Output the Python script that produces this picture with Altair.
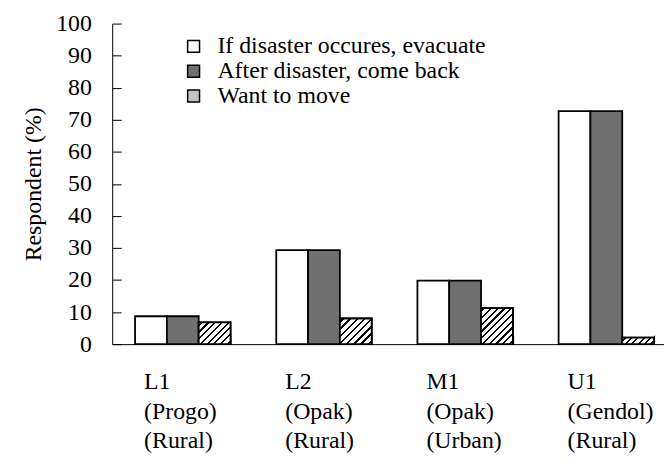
import altair as alt
import pandas as pd

# ---- data ----
site_codes = ["L1", "L2", "M1", "U1"]
rivers = ["(Progo)", "(Opak)", "(Opak)", "(Gendol)"]
areas = ["(Rural)", "(Rural)", "(Urban)", "(Rural)"]
series = ["If disaster occures, evacuate", "After disaster, come back", "Want to move"]
evacuate = [8.7, 29.3, 19.8, 72.7]
come_back = [8.7, 29.3, 19.8, 72.7]
want_move = [6.8, 8.0, 11.2, 2.0]
y_ticks = list(range(0, 101, 10))

sites = [f"{c}|{r}|{a}" for c, r, a in zip(site_codes, rivers, areas)]
rows = []
for vals, s in zip([evacuate, come_back, want_move], series):
    for site, v in zip(sites, vals):
        rows.append({"site": site, "series": s, "value": v})
df = pd.DataFrame(rows)

FONT = "Liberation Serif"
FS = 24
PLOT_H = 323
X_RANGE = 569
P_IN, P_OUT = 0.324, 0.162
STEP = X_RANGE / (len(sites) - P_IN + 2 * P_OUT)
BAR_W = STEP * (1 - P_IN) / len(series)


def hatch_fill(h_px, w_px=BAR_W, period=7.0, ink=0.33):
    """Diagonal '/' hatch as a striped linear gradient sized to one bar."""
    h_px = max(h_px, 1.0)
    k = (w_px + h_px) / (w_px ** 2 + h_px ** 2)
    n = max(1, round((w_px + h_px) / period))
    stops = []
    for i in range(n):
        a, b, c = i / n, (i + ink) / n, (i + 1) / n
        stops += [
            {"offset": a, "color": "white"},
            {"offset": b, "color": "white"},
            {"offset": b, "color": "black"},
            {"offset": min(b + ink / n, c), "color": "black"},
            {"offset": min(b + ink / n, c), "color": "white"},
            {"offset": c, "color": "white"},
        ]
    return alt.LinearGradient(gradient="linear", x1=0, y1=0,
                              x2=k * w_px, y2=k * h_px, stops=stops)


def x_scale():
    return alt.Scale(domain=sites, range=[0, X_RANGE], paddingInner=P_IN, paddingOuter=P_OUT)


def y_scale():
    return alt.Scale(domain=[0, 100], nice=False)


def xo_scale():
    return alt.Scale(domain=series, paddingInner=0, paddingOuter=0)


y_axis_main = alt.Axis(
    orient="left", values=y_ticks, ticks=False, grid=False,
    labelFont=FONT, labelFontSize=FS, labelColor="black", labelPadding=21,
    domainColor="black",
    title="Respondent (%)", titleFont=FONT, titleFontSize=FS,
    titleFontWeight="normal", titleColor="black", titlePadding=10,
)
y_axis_ticks = alt.Axis(
    orient="left", values=y_ticks, labels=False, domain=False, grid=False,
    title=None, tickSize=9, offset=-9, tickColor="black",
)
x_axis_main = alt.Axis(
    orient="bottom", ticks=False, labelAngle=0, title=None,
    labelExpr="split(datum.value, '|')",
    labelFont=FONT, labelFontSize=FS, labelColor="black",
    labelAlign="left", labelOffset=-39,
    labelLineHeight=29.5, labelPadding=26, domainColor="black",
)
x_axis_ticks = alt.Axis(
    orient="bottom", labels=False, domain=False, title=None, grid=False,
    tickBand="extent", tickSize=9, offset=-9, tickColor="black",
)

bars = alt.Chart(df).mark_bar(stroke="black", strokeWidth=1.8).encode(
    x=alt.X("site:N", sort=sites, scale=x_scale(), axis=x_axis_main),
    xOffset=alt.XOffset("series:N", sort=series, scale=xo_scale()),
    y=alt.Y("value:Q", scale=y_scale(), axis=y_axis_main),
    color=alt.Color(
        "series:N", sort=series,
        scale=alt.Scale(domain=series, range=["white", "#707070", "#c4c4c4"]),
        legend=alt.Legend(
            title=None, orient="none", legendX=70, legendY=11,
            symbolType="square", symbolSize=144, symbolStrokeColor="black",
            symbolStrokeWidth=1.5, symbolOpacity=1,
            labelFont=FONT, labelFontSize=FS, labelColor="black",
            labelLimit=0, rowPadding=1, labelOffset=12,
        ),
    ),
)

layers = [bars]
for i, (site, v) in enumerate(zip(sites, want_move)):
    first = i == 0
    layers.append(
        alt.Chart(df).transform_filter(
            (alt.datum.series == "Want to move") & (alt.datum.site == site)
        ).mark_bar(
            fill=hatch_fill(v / 100 * PLOT_H), stroke="black", strokeWidth=1.8
        ).encode(
            x=alt.X("site:N", sort=sites, scale=x_scale(),
                    axis=x_axis_ticks if first else None),
            xOffset=alt.XOffset("series:N", sort=series, scale=xo_scale()),
            y=alt.Y("value:Q", scale=y_scale(),
                    axis=y_axis_ticks if first else None),
        )
    )

chart = alt.layer(*layers).resolve_scale(
    x="independent", y="independent"
).properties(
    width=556, height=PLOT_H,
    autosize=alt.AutoSizeParams(type="none"),
    padding={"left": 105, "top": 14, "right": 0, "bottom": 108},
    background="white",
).configure_view(stroke=None)

chart.save("out.html", embed_options={"renderer": "svg", "actions": False})
